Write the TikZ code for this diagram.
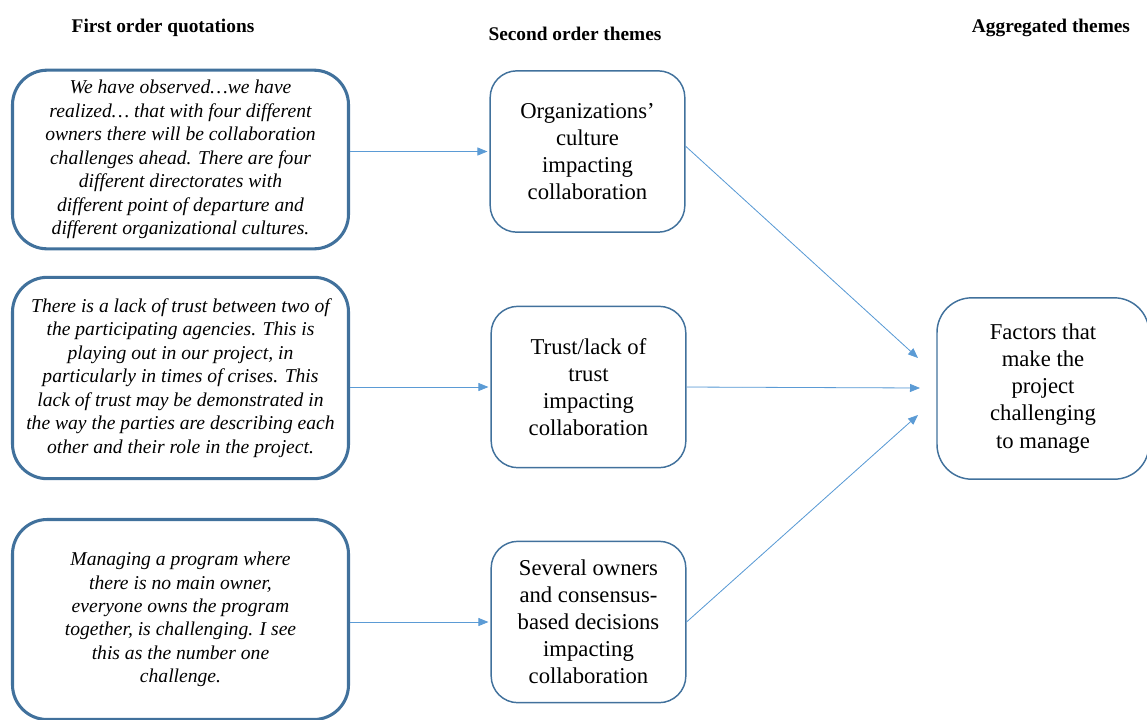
\documentclass[tikz,border=0pt]{standalone}
\usepackage{fontspec}
\setmainfont{Liberation Serif}
\usetikzlibrary{arrows.meta}
\definecolor{boxline}{HTML}{41719C}
\definecolor{arrowline}{HTML}{5B9BD5}
\begin{document}
\begin{tikzpicture}[x=0.75pt,y=-0.75pt,
    head/.style={font=\fontsize{14.5}{17}\selectfont\bfseries},
    quote/.style={draw=boxline,line width=2.3pt,rounded corners=26pt,align=center,
        font=\fontsize{14.7}{17.6}\selectfont\itshape,minimum width=252pt},
    theme/.style={draw=boxline,line width=1.1pt,rounded corners=20pt,align=center,
        font=\fontsize{17}{20.3}\selectfont,minimum width=146pt,minimum height=121pt},
    arr/.style={-{Triangle[length=7.5pt,width=6pt]},draw=arrowline,fill=arrowline,line width=0.6pt}]
    \useasboundingbox (0,0) rectangle (1147,719);
    \node[head] (h1) at (163,28) {First order quotations};
    \node[head] (h2) at (575,34) {Second order themes};
    \node[head] (h3) at (1051,28) {Aggregated themes};
    \node[quote,minimum height=134pt] (q1) at (180.5,159.5) {We have observed\dots we have\\realized\dots{} that with four different\\owners there will be collaboration\\challenges ahead. There are four\\different directorates with\\different point of departure and\\different organizational cultures.};
    \node[quote,minimum height=151pt] (q2) at (180.5,378) {There is a lack of trust between two of\\the participating agencies. This is\\playing out in our project, in\\particularly in times of crises. This\\lack of trust may be demonstrated in\\the way the parties are describing each\\other and their role in the project.};
    \node[quote,minimum height=150pt] (q3) at (180.5,619.5) {Managing a program where\\there is no main owner,\\everyone owns the program\\together, is challenging. I see\\this as the number one\\challenge.};
    \node[theme] (t1) at (587.5,151.5) {Organizations'\\culture\\impacting\\collaboration};
    \node[theme] (t2) at (588.5,387) {Trust/lack of\\trust\\impacting\\collaboration};
    \node[theme] (t3) at (588.5,622) {Several owners\\and consensus-\\based decisions\\impacting\\collaboration};
    \node[theme,rounded corners=26pt,minimum width=159pt,minimum height=136pt] (agg) at (1043,388.5) {Factors that\\make the\\project\\challenging\\to manage};
    \coordinate (in1) at (918,358);
    \coordinate (in2) at (920,388);
    \coordinate (in3) at (918,415);
    \draw[arr] (q1.east |- t1.west) -- ([xshift=-1.5pt]t1.west);
    \draw[arr] (q2.east |- t2.west) -- ([xshift=-1.5pt]t2.west);
    \draw[arr] (q3.east |- t3.west) -- ([xshift=-1.5pt]t3.west);
    \draw[arr] ([yshift=4pt]t1.east) -- (in1);
    \draw[arr] (t2.east) -- (in2);
    \draw[arr] (t3.east) -- (in3);
\end{tikzpicture}
\end{document}
